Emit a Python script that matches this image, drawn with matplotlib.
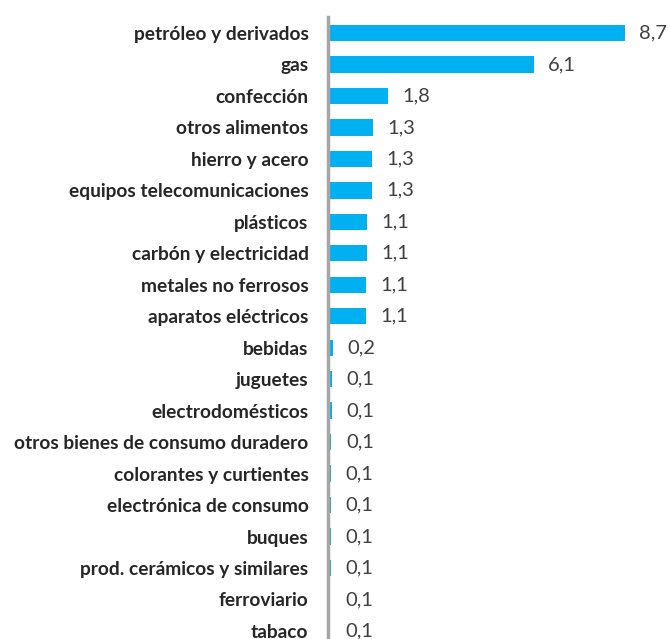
import matplotlib.pyplot as plt

categories = [
    "petróleo y derivados", "gas", "confección", "otros alimentos",
    "hierro y acero", "equipos telecomunicaciones", "plásticos",
    "carbón y electricidad", "metales no ferrosos", "aparatos eléctricos",
    "bebidas", "juguetes", "electrodomésticos",
    "otros bienes de consumo duradero", "colorantes y curtientes",
    "electrónica de consumo", "buques", "prod. cerámicos y similares",
    "ferroviario", "tabaco",
]
values = [8.7, 6.1, 1.8, 1.3, 1.3, 1.3, 1.1, 1.1, 1.1, 1.1,
          0.2, 0.1, 0.1, 0.1, 0.1, 0.1, 0.1, 0.1, 0.1, 0.1]
bar_widths = [8.7, 6.02, 1.72, 1.27, 1.24, 1.24, 1.09, 1.09, 1.06, 1.06,
              0.09, 0.07, 0.07, 0.05, 0.04, 0.04, 0.03, 0.03, 0.02, 0.02]

W, H = 670, 639
fig = plt.figure(figsize=(W / 100, H / 100), dpi=100)
step = 31.47
top_px = 33 - step / 2
n = len(categories)
bottom_px = top_px + n * step
ax = fig.add_axes([328 / W, 1 - bottom_px / H, 340 / W, (bottom_px - top_px) / H])

y = list(range(n))
ax.barh(y, bar_widths, height=0.52, color="#00B0F0", left=0.05)
ax.set_ylim(n - 0.5, -0.5)
ax.set_xlim(0, 340 / 33.9)

for s in ["top", "right", "bottom"]:
    ax.spines[s].set_visible(False)
ax.spines["left"].set_color("#A6A6A6")
ax.spines["left"].set_linewidth(2.5)
ax.set_xticks([])
ax.set_yticks(y)
ax.set_yticklabels(categories, fontfamily="Lato", fontweight="bold",
                   fontsize=13.8, color="#262626")
ax.tick_params(axis="y", length=0, pad=14)

for i, (v, w) in enumerate(zip(values, bar_widths)):
    ax.annotate(f"{v:.1f}".replace(".", ","), (0.05 + w, i), xytext=(10.5, 0),
                textcoords="offset points", va="center", ha="left",
                fontfamily="Lato", fontsize=14.5, color="#404040")

fig.savefig("out.png", dpi=100)
